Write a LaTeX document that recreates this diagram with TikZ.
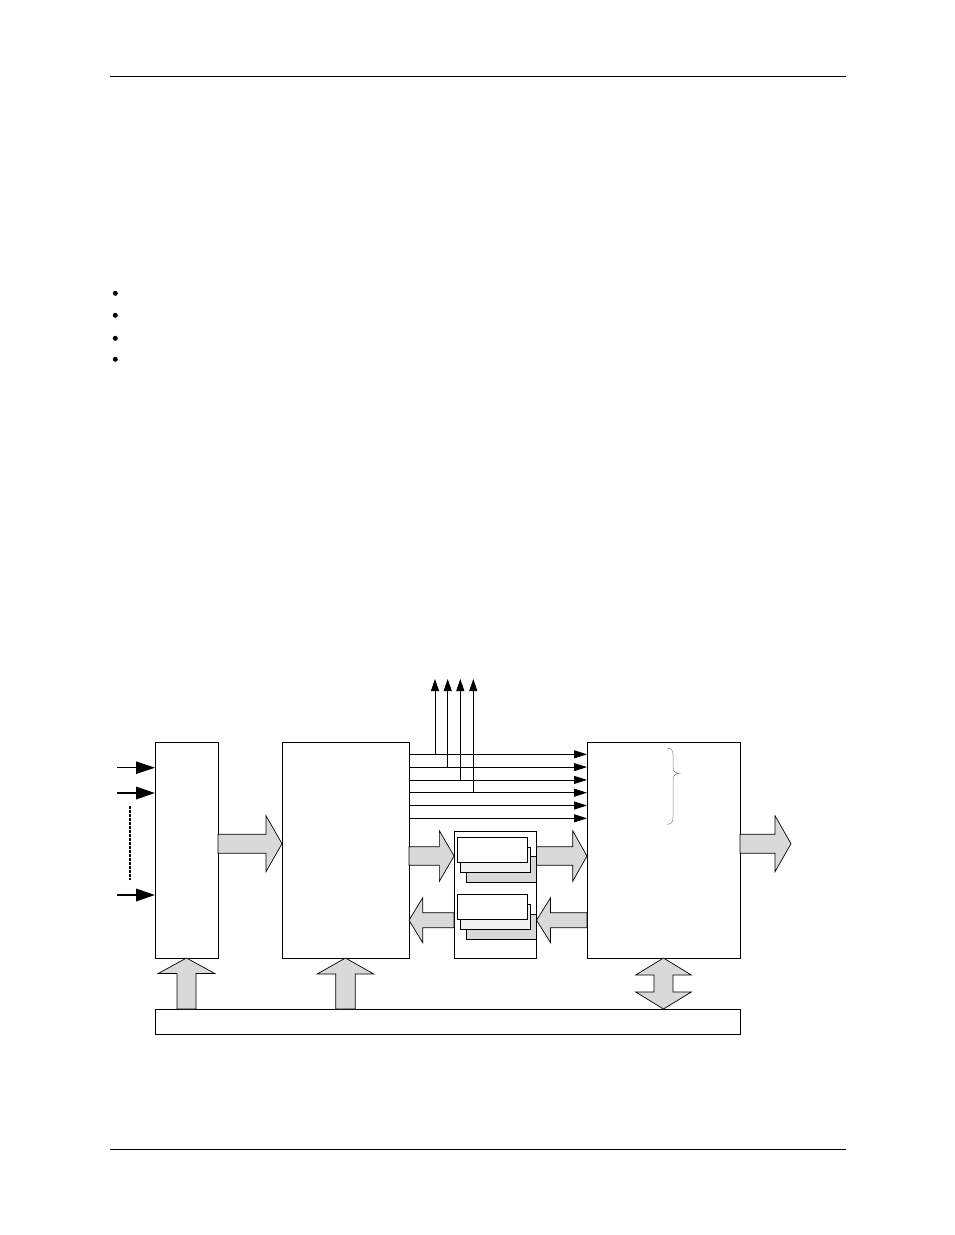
\documentclass[tikz,border=0pt]{standalone}
\usetikzlibrary{calc,arrows.meta}
\definecolor{arrowgray}{RGB}{217,217,217}
\definecolor{cardlight}{RGB}{242,242,242}
\definecolor{bracegray}{RGB}{128,128,128}

\newcommand{\fatarrow}[5]{%
  \path #1 coordinate (fa-s) #2 coordinate (fa-t);
  \path ($(fa-t)!#5!(fa-s)$) coordinate (fa-h);
  \draw[fat] ($(fa-s)!#3!90:(fa-t)$) -- ($(fa-h)!#3!90:(fa-t)$) --
    ($(fa-h)!#4!90:(fa-t)$) -- (fa-t) -- ($(fa-h)!#4!-90:(fa-t)$) --
    ($(fa-h)!#3!-90:(fa-t)$) -- ($(fa-s)!#3!-90:(fa-t)$) -- cycle;}
\newcommand{\fatboth}[5]{%
  \path #1 coordinate (fb-s) #2 coordinate (fb-t);
  \path ($(fb-s)!#5!(fb-t)$) coordinate (fb-a) ($(fb-t)!#5!(fb-s)$) coordinate (fb-b);
  \draw[fat] (fb-s) -- ($(fb-a)!#4!90:(fb-t)$) -- ($(fb-a)!#3!90:(fb-t)$) --
    ($(fb-b)!#3!-90:(fb-s)$) -- ($(fb-b)!#4!-90:(fb-s)$) -- (fb-t) --
    ($(fb-b)!#4!90:(fb-s)$) -- ($(fb-b)!#3!90:(fb-s)$) --
    ($(fb-a)!#3!-90:(fb-t)$) -- ($(fb-a)!#4!-90:(fb-t)$) -- cycle;}

\begin{document}
\begin{tikzpicture}[
    x = 1pt, y = -1pt,
    block/.style = {draw, line width=0.9pt, fill=white, inner sep=0pt, outer sep=0pt},
    fat/.style = {draw, line width=0.7pt, fill=arrowgray, line join=miter},
    insig/.style = {-{Triangle[length=19pt,width=12.5pt]}},
    sig/.style = {line width=0.8pt, -{Triangle[length=13pt,width=8pt]}},
    tap/.style = {line width=0.8pt, -{Triangle[length=12pt,width=8pt]}},
    card/.style = {draw, line width=0.7pt},
    brace/.style = {draw=bracegray, line width=0.5pt}]

\useasboundingbox (0,0) rectangle (954,1235);

\draw[line width=0.9pt] (110,76) -- (846,76)
      (110,1149) -- (846,1149);
\foreach \y in {293.3,315.3,338.3,359.3}
  \fill (115.3,\y) circle (2.5);

\node[block, minimum width=63pt, minimum height=216pt] (lin) at (186.5,850) {};
\node[block, minimum width=127pt, minimum height=216pt] (proc) at (345.5,850) {};
\node[block, minimum width=153pt, minimum height=216pt] (outb) at (663.5,850) {};
\node[block, minimum width=82.5pt, minimum height=127pt] (buf) at (495.3,894.5) {};
\node[block, minimum width=585pt, minimum height=25pt] (bus) at (447.5,1021.5) {};

\foreach \n/\y/\w in {1/767.7/0.9pt, 2/793/1.8pt, 3/895/1.8pt} {
  \coordinate (in\n) at (117,\y);
  \draw[insig, line width=\w] (in\n) -- (in\n -| lin.west);
}
\draw[line width=1.8pt, dash pattern=on 2.6pt off 1.4pt] (130,806) -- (130,880);

\foreach \i in {1,...,6} {
  \coordinate (t\i) at (500,{741.5+12.8*\i});
  \draw[sig] (proc.east |- t\i) -- (outb.west |- t\i);
}
\foreach \i/\x in {1/435,2/447.7,3/460.3,4/473.3} {
  \coordinate (u\i) at (\x,679);
  \draw[tap] (u\i |- t\i) -- (u\i);
}

\foreach \y in {837,894.3} {
  \draw[card, fill=arrowgray] (466,\y+19.7) rectangle +(70.3,25.3);
  \draw[card, fill=cardlight] (460.3,\y+10.3) rectangle +(70,24.7);
  \draw[card, fill=white] (457.3,\y) rectangle +(70.4,25.3);
}

\draw[brace] (667.3,748.3) .. controls (671.5,748.3) and (673,750) .. (673,755)
   -- (673,767) .. controls (673,771) and (675,773.3) .. (679.3,773.3)
   .. controls (675,773.3) and (673,776) .. (673,780)
   -- (673,817) .. controls (673,822) and (671.5,824.3) .. (667.3,824.3);

\coordinate (a1) at (250,843.7);
\coordinate (a2) at (500,856);
\coordinate (a3) at (500,920.2);
\coordinate (q) at (791,843.7);
\fatarrow{(lin.east |- a1)}{(proc.west |- a1)}{9.5pt}{28pt}{16pt}
\fatarrow{(proc.east |- a2)}{(buf.west |- a2)}{9.2pt}{25.3pt}{14.7pt}
\fatarrow{(buf.east |- a2)}{(outb.west |- a2)}{9.2pt}{25.3pt}{14.3pt}
\fatarrow{(buf.west |- a3)}{(proc.east |- a3)}{7.5pt}{22.5pt}{13.7pt}
\fatarrow{(outb.west |- a3)}{(buf.east |- a3)}{7.5pt}{22.5pt}{14pt}
\fatarrow{(outb.east |- q)}{(q)}{9.5pt}{28pt}{16pt}
\fatarrow{(lin.south |- bus.north)}{(lin.south)}{9.5pt}{28.3pt}{15.5pt}
\fatarrow{(proc.south |- bus.north)}{(proc.south)}{9.7pt}{28.3pt}{16pt}
\fatboth{(outb.south)}{(outb.south |- bus.north)}{9.5pt}{27.8pt}{17pt}
\end{tikzpicture}
\end{document}
